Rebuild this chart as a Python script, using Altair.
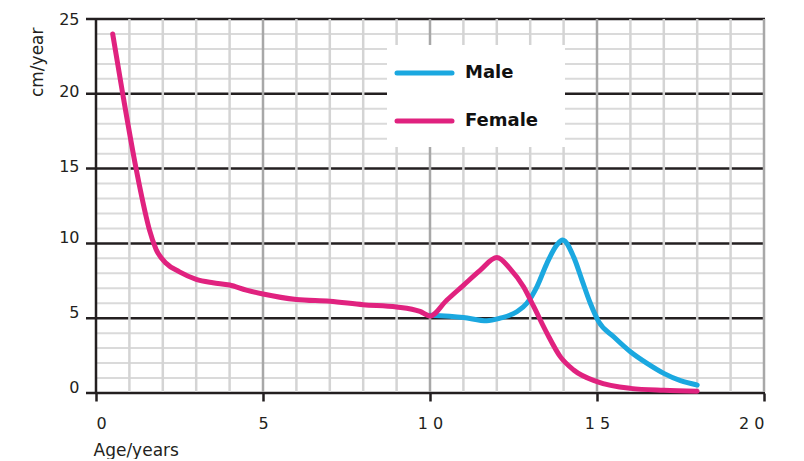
import altair as alt
import pandas as pd

# ---- data ----
female_age = [0.5, 0.8, 1.2, 1.5, 1.6, 1.8, 2.1, 2.5, 3.0, 3.5, 4.0, 4.5, 5.0, 6.0, 7.0, 8.0, 9.0, 9.7, 10.0,
              10.5, 11.0, 11.5, 12.0, 12.4, 12.8, 13.1, 13.5, 13.9, 14.3, 15.0, 16.0, 17.0, 18.0]
female_rate = [24.0, 20.0, 15.0, 11.8, 10.9, 9.6, 8.67, 8.1, 7.6, 7.37, 7.22, 6.88, 6.62, 6.25, 6.13, 5.9, 5.75, 5.45, 5.15,
               6.2, 7.2, 8.2, 9.05, 8.3, 7.1, 5.8, 4.0, 2.43, 1.54, 0.76, 0.31, 0.18, 0.12]

male_age = [10.0, 11.0, 11.7, 12.1, 12.6, 12.9, 13.2, 13.5, 13.8, 13.97, 14.3, 14.55, 14.8,
            15.05, 15.5, 16.0, 16.5, 17.0, 17.5, 18.0]
male_rate = [5.2, 5.05, 4.83, 5.0, 5.43, 6.0, 7.1, 8.67, 9.9, 10.23, 9.1, 7.55, 6.0,
             4.77, 3.76, 2.76, 1.98, 1.31, 0.82, 0.53]

series_names = ["Male", "Female"]
series_colors = ["#1ba8e0", "#e0227f"]

x_ticks = [0, 5, 10, 15, 20]
x_tick_labels = ["0", "5", "1 0", "1 5", "2 0"]
y_ticks = [0, 5, 10, 15, 20, 25]
x_minor = [1, 2, 3, 4, 6, 7, 8, 9, 11, 12, 13, 14, 16, 17, 18, 19]
x_major = [5, 10, 15, 20]
y_minor = [1, 2, 3, 4, 6, 7, 8, 9, 11, 12, 13, 14, 16, 17, 18, 19, 21, 22, 23, 24]

# ---- layout / style ----
W, H = 668, 374
FONT = "DejaVu Sans"
DARK = "#231f20"

male_df = pd.DataFrame({"age": male_age, "rate": male_rate, "series": series_names[0]})
female_df = pd.DataFrame({"age": female_age, "rate": female_rate, "series": series_names[1]})

xs = alt.Scale(domain=[0, 20], nice=False, zero=False)
ys = alt.Scale(domain=[0, 25], nice=False)

label_expr = "datum.label"
for v, lab in zip(x_ticks, x_tick_labels):
    label_expr = f"datum.value == {v} ? '{lab}' : (" + label_expr + ")"

x_axis = alt.Axis(values=x_ticks, labelExpr=label_expr, title="Age/years", domain=False, grid=False,
                  ticks=True, tickColor=DARK, tickWidth=2.5, tickSize=8, labelPadding=14,
                  labelFont=FONT, labelFontSize=16, labelColor=DARK, labelFontWeight="normal",
                  titleFont=FONT, titleFontSize=17, titleFontWeight="normal", titleColor=DARK,
                  titleX=-3, titleY=62, titleAlign="left", titleBaseline="alphabetic", titleAnchor="start")
y_axis = alt.Axis(values=y_ticks, title="cm/year", domain=False, grid=False, ticks=False,
                  labelPadding=17, labelFont=FONT, labelFontSize=16, labelColor=DARK,
                  labelBaseline="alphabetic",
                  labelOffset={"condition": [{"test": "datum.value == 25", "value": 5},
                                             {"test": "datum.value >= 15", "value": 3}],
                               "value": -1},
                  titleFont=FONT, titleFontSize=17, titleFontWeight="normal", titleColor=DARK,
                  titleX=-59, titleY=8, titleAngle=270, titleAlign="right", titleBaseline="middle")

h_minor = alt.Chart(pd.DataFrame({"v": y_minor})).mark_rule(color="#dadada", strokeWidth=2).encode(
    y=alt.Y("v:Q", scale=ys, axis=y_axis), x=alt.value(0), x2=alt.value(W))
h_major = alt.Chart(pd.DataFrame({"v": y_ticks})).mark_rule(color=DARK, strokeWidth=2.5).encode(
    y=alt.Y("v:Q", scale=ys, axis=y_axis), x=alt.value(-10), x2=alt.value(W + 1))
v_minor = alt.Chart(pd.DataFrame({"v": x_minor})).mark_rule(color="#d4d4d4", strokeWidth=2.5).encode(
    x=alt.X("v:Q", scale=xs, axis=x_axis), y=alt.value(0), y2=alt.value(H - 1))
v_major = alt.Chart(pd.DataFrame({"v": x_major})).mark_rule(color="#a8a8a8", strokeWidth=2.5).encode(
    x=alt.X("v:Q", scale=xs, axis=x_axis), y=alt.value(0), y2=alt.value(H - 1))
y_line = alt.Chart(pd.DataFrame({"v": [0]})).mark_rule(color=DARK, strokeWidth=2.5).encode(
    x=alt.X("v:Q", scale=xs, axis=x_axis), y=alt.value(-1), y2=alt.value(H))

legend_box = alt.Chart(pd.DataFrame({"s": [0]})).mark_rect(color="white").encode(
    x=alt.value(291), x2=alt.value(469), y=alt.value(26), y2=alt.value(128))

male_line = alt.Chart(male_df).mark_line(strokeWidth=5, interpolate="monotone", strokeCap="round",
                                         color=series_colors[0]).encode(
    x=alt.X("age:Q", scale=xs, axis=x_axis),
    y=alt.Y("rate:Q", scale=ys, axis=y_axis),
)
female_line = alt.Chart(female_df).mark_line(strokeWidth=5, interpolate="monotone", strokeCap="round",
                                             color=series_colors[1]).encode(
    x=alt.X("age:Q", scale=xs, axis=x_axis),
    y=alt.Y("rate:Q", scale=ys, axis=y_axis),
)

legend_layers = []
for i, (name, col) in enumerate(zip(series_names, series_colors)):
    ypix = 54 + 48 * i
    d = pd.DataFrame({"series": [name]})
    legend_layers.append(alt.Chart(d).mark_rule(color=col, strokeWidth=5, strokeCap="round").encode(
        x=alt.value(301), x2=alt.value(356), y=alt.value(ypix)))
    legend_layers.append(alt.Chart(d).mark_text(font=FONT, fontSize=18, fontWeight="bold", align="left",
                                                baseline="middle", color="#111111").encode(
        x=alt.value(369), y=alt.value(ypix), text="series:N"))

chart = alt.layer(
    h_minor, h_major, v_minor, v_major, y_line, legend_box,
    male_line, female_line, *legend_layers
).properties(
    width=W, height=H,
    autosize=alt.AutoSizeParams(type="none"),
    padding={"left": 88, "top": 11, "right": 32, "bottom": 66},
    background="white",
).configure_view(stroke=None)

chart.save("out.html", embed_options={"renderer": "svg", "actions": False})
